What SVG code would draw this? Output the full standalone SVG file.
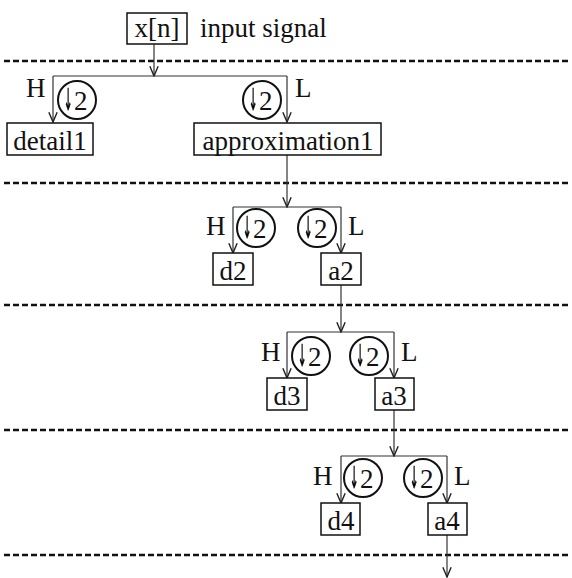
<svg xmlns="http://www.w3.org/2000/svg" width="572" height="578" viewBox="0 0 572 578">
<defs>
<style>
text{font-family:"Liberation Serif","Times New Roman",serif;font-size:27px;fill:#111}
.box{fill:#fff;stroke:#111;stroke-width:1.5}
.c{fill:none;stroke:#111;stroke-width:2}
.ln{fill:none;stroke:#333;stroke-width:1.2}
.ar{fill:none;stroke:#333;stroke-width:1.2;marker-end:url(#ah)}
.dash{stroke:#111;stroke-width:2.4;stroke-dasharray:6 3}
.mid{text-anchor:middle}
.dn{font-family:"DejaVu Sans",sans-serif;font-size:26px;text-anchor:middle;fill:#000;stroke:#000;stroke-width:0.6;filter:url(#gray)}
</style>
<filter id="gray" x="-50%" y="-50%" width="200%" height="200%">
<feColorMatrix type="saturate" values="0"/>
</filter>
<marker id="ah" markerUnits="userSpaceOnUse" markerWidth="12" markerHeight="12" viewBox="-1 -5 11 10" refX="9" refY="0" orient="auto">
<path d="M0,-3.8 L9,0 L0,3.8" fill="none" stroke="#222" stroke-width="1.3"/>
</marker>
</defs>
<rect width="572" height="578" fill="#fff"/>
<g id="separators">
<line class="dash" x1="4" y1="61" x2="568" y2="61"/>
<line class="dash" x1="4" y1="183" x2="568" y2="183"/>
<line class="dash" x1="4" y1="305" x2="568" y2="305"/>
<line class="dash" x1="4" y1="430" x2="568" y2="430"/>
<line class="dash" x1="4" y1="555" x2="568" y2="555"/>
</g>
<g id="connectors">
<path class="ar" d="M154,43 V76"/>
<path class="ln" d="M53,76 H287"/>
<path class="ar" d="M53,76 V122"/>
<path class="ar" d="M287,76 V122"/>
<path class="ar" d="M287,155 V207"/>
<path class="ln" d="M233,207 H341"/>
<path class="ar" d="M233,207 V253"/>
<path class="ar" d="M341,207 V253"/>
<path class="ar" d="M341,285 V332"/>
<path class="ln" d="M287,332 H394"/>
<path class="ar" d="M287,332 V378"/>
<path class="ar" d="M394,332 V378"/>
<path class="ar" d="M394,410 V456"/>
<path class="ln" d="M341,456 H447"/>
<path class="ar" d="M341,456 V503"/>
<path class="ar" d="M447,456 V503"/>
<path class="ar" d="M447,535 V577"/>
</g>
<g id="input">
<rect class="box" x="127" y="13" width="60" height="31"/>
<text class="mid" x="157" y="37">x[n]</text>
<text x="200" y="37">input signal</text>
</g>
<g id="level1">
<text x="26" y="97">H</text>
<text x="295" y="97">L</text>
<g id="down1h"><circle class="c" cx="77" cy="100" r="19"/><text class="dn" transform="translate(68,110) scale(0.4,1.15)">↓</text><text x="74" y="110">2</text></g>
<g id="down1l"><circle class="c" cx="262" cy="100" r="19"/><text class="dn" transform="translate(253,110) scale(0.4,1.15)">↓</text><text x="259" y="110">2</text></g>
<g id="detail1"><rect class="box" x="7" y="123" width="86" height="32"/><text class="mid" x="50" y="150">detail1</text></g>
<g id="approximation1"><rect class="box" x="194" y="123" width="187" height="32"/><text class="mid" x="288" y="150">approximation1</text></g>
</g>
<g id="level2">
<text x="206" y="235">H</text>
<text x="348" y="235">L</text>
<g id="down2h"><circle class="c" cx="256" cy="228" r="19"/><text class="dn" transform="translate(247,238) scale(0.4,1.15)">↓</text><text x="253" y="238">2</text></g>
<g id="down2l"><circle class="c" cx="317" cy="228" r="19"/><text class="dn" transform="translate(308,238) scale(0.4,1.15)">↓</text><text x="314" y="238">2</text></g>
<g id="d2"><rect class="box" x="213" y="253" width="40" height="32"/><text class="mid" x="233" y="280">d2</text></g>
<g id="a2"><rect class="box" x="321" y="253" width="40" height="32"/><text class="mid" x="341" y="280">a2</text></g>
</g>
<g id="level3">
<text x="261" y="361">H</text>
<text x="401" y="361">L</text>
<g id="down3h"><circle class="c" cx="311" cy="356" r="19"/><text class="dn" transform="translate(302,366) scale(0.4,1.15)">↓</text><text x="308" y="366">2</text></g>
<g id="down3l"><circle class="c" cx="369" cy="356" r="19"/><text class="dn" transform="translate(360,366) scale(0.4,1.15)">↓</text><text x="366" y="366">2</text></g>
<g id="d3"><rect class="box" x="267" y="378" width="40" height="32"/><text class="mid" x="287" y="405">d3</text></g>
<g id="a3"><rect class="box" x="375" y="378" width="39" height="32"/><text class="mid" x="394" y="405">a3</text></g>
</g>
<g id="level4">
<text x="313" y="485">H</text>
<text x="454" y="485">L</text>
<g id="down4h"><circle class="c" cx="363" cy="478" r="19"/><text class="dn" transform="translate(354,488) scale(0.4,1.15)">↓</text><text x="360" y="488">2</text></g>
<g id="down4l"><circle class="c" cx="423" cy="478" r="19"/><text class="dn" transform="translate(414,488) scale(0.4,1.15)">↓</text><text x="420" y="488">2</text></g>
<g id="d4"><rect class="box" x="321" y="503" width="39" height="32"/><text class="mid" x="341" y="530">d4</text></g>
<g id="a4"><rect class="box" x="428" y="503" width="39" height="32"/><text class="mid" x="447" y="530">a4</text></g>
</g>
</svg>
